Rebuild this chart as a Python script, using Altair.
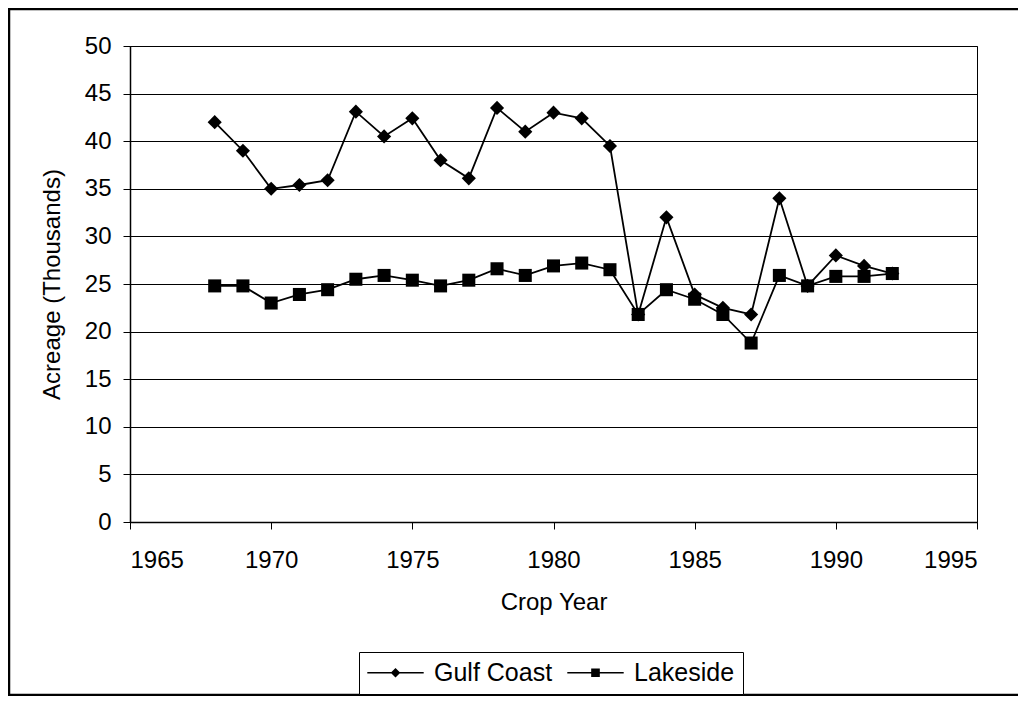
import altair as alt
import pandas as pd

# ---- data ----
years = list(range(1968, 1993))
gulf_coast = [42.0, 39.0, 35.0, 35.4, 35.9, 43.1, 40.5, 42.4, 38.0, 36.1,
              43.5, 41.0, 43.0, 42.4, 39.5, 21.8, 32.0, 23.9, 22.5, 21.8,
              34.0, 24.8, 28.0, 26.9, 26.1]
lakeside = [24.8, 24.8, 23.0, 23.9, 24.4, 25.5, 25.9, 25.4, 24.8, 25.4,
            26.6, 25.9, 26.9, 27.2, 26.5, 21.8, 24.4, 23.4, 21.8, 18.8,
            25.9, 24.8, 25.8, 25.8, 26.1]
series_names = ["Gulf Coast", "Lakeside"]
x_ticks = [1965, 1970, 1975, 1980, 1985, 1990, 1995]
y_ticks = [0, 5, 10, 15, 20, 25, 30, 35, 40, 45, 50]

df = pd.DataFrame({
    "year": years + years,
    "acreage": gulf_coast + lakeside,
    "series": [series_names[0]] * len(years) + [series_names[1]] * len(years),
})

FONT = "Liberation Sans"
PLOT_W, PLOT_H = 847, 476

x_enc = alt.X(
    "year:Q",
    scale=alt.Scale(domain=[1965, 1995], nice=False, zero=False),
    axis=alt.Axis(values=x_ticks, format="d", title="Crop Year", grid=False,
                  labelPadding=19, titlePadding=18, tickSize=7),
)
y_enc = alt.Y(
    "acreage:Q",
    scale=alt.Scale(domain=[0, 50], nice=False),
    axis=alt.Axis(values=y_ticks, title="Acreage (Thousands)", grid=True,
                  labelPadding=12, titlePadding=20, tickSize=7),
)

lines = alt.Chart(df).mark_line(color="black", strokeWidth=1.8).encode(
    x=x_enc, y=y_enc, detail="series:N"
)

points = alt.Chart(df).mark_point(
    filled=True, color="black", opacity=1
).encode(
    x=x_enc, y=y_enc,
    shape=alt.Shape("series:N",
                    scale=alt.Scale(domain=series_names, range=["diamond", "square"]),
                    legend=None),
    size=alt.Size("series:N",
                  scale=alt.Scale(domain=series_names, range=[200, 170]),
                  legend=None),
)

# legend symbols: a thin bar (the line) with the series marker in the middle,
# drawn as filled shapes (unit = 12 px because symbolSize = 576)
gulf_symbol = ("M-2.35,-0.065L2.35,-0.065L2.35,0.065L-2.35,0.065Z"
               "M0,-0.4L0.4,0L0,0.4L-0.4,0Z")
lake_symbol = ("M-2.35,-0.065L2.35,-0.065L2.35,0.065L-2.35,0.065Z"
               "M-0.36,-0.36L0.36,-0.36L0.36,0.36L-0.36,0.36Z")

legend_layer = alt.Chart(df).transform_filter("false").mark_point(
    filled=True, color="black"
).encode(
    x=x_enc, y=y_enc,
    shape=alt.Shape(
        "series:N",
        scale=alt.Scale(domain=series_names, range=[gulf_symbol, lake_symbol]),
        legend=alt.Legend(
            title=None, orient="none", legendX=229, legendY=606,
            direction="horizontal", strokeColor="black", fillColor="white",
            padding=8, symbolSize=576, symbolStrokeWidth=0,
            symbolFillColor="black", symbolOpacity=1,
            symbolOffset=16, labelOffset=26,
            columnPadding=14, labelFontSize=25, labelFont=FONT,
            labelColor="black", labelLimit=300,
        ),
    ),
)

# outer chart frame
frame = alt.Chart(pd.DataFrame({"k": [0]})).mark_rect(
    fill=None, stroke="black", strokeWidth=2.5
).encode(
    x=alt.value(-121), x2=alt.value(PLOT_W + 80),
    y=alt.value(-37), y2=alt.value(649),
)

chart = alt.layer(frame, lines, points, legend_layer).resolve_scale(
    shape="independent"
).properties(
    width=PLOT_W, height=PLOT_H,
    autosize=alt.AutoSizeParams(type="none"),
    padding={"left": 122, "top": 38, "right": 41, "bottom": 174},
).configure_view(
    stroke="black", strokeWidth=1
).configure_axis(
    labelFont=FONT, titleFont=FONT, labelFontSize=24, titleFontSize=24,
    titleFontWeight="normal", labelColor="black", titleColor="black",
    domainColor="black", tickColor="black", gridColor="black", gridWidth=1,
    gridOpacity=1, domainWidth=1.5, tickWidth=1,
)

chart.save("out.html", embed_options={"renderer": "svg", "actions": False})
